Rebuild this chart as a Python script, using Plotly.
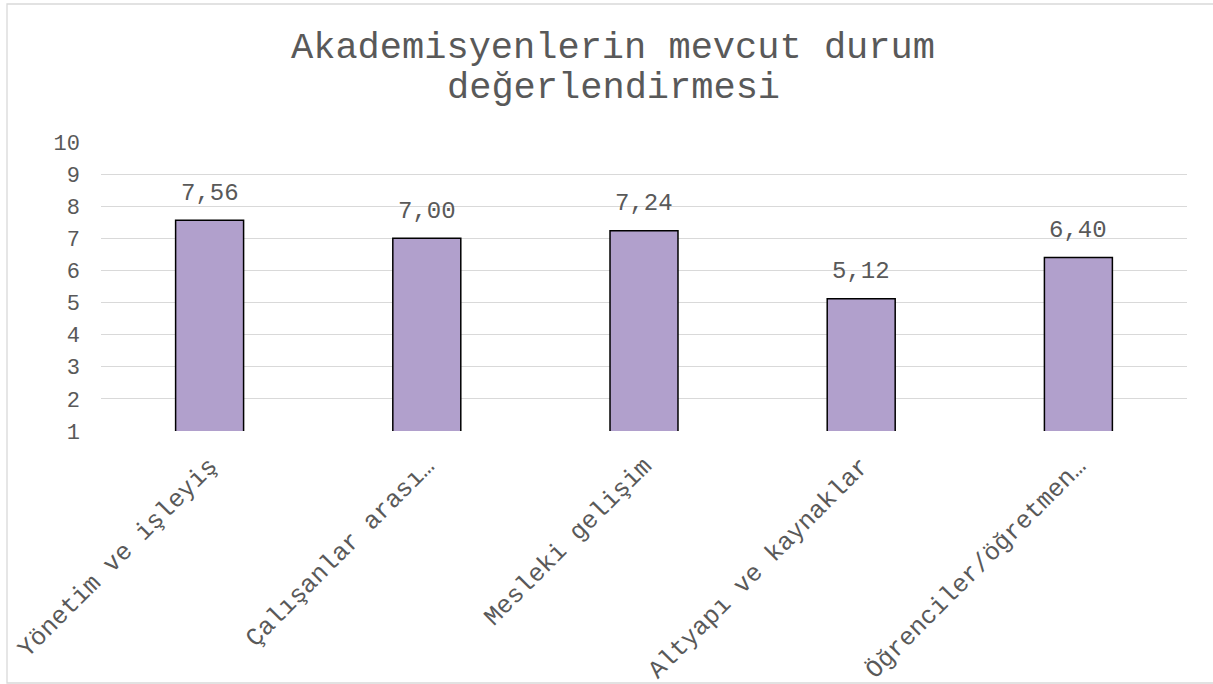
import plotly.graph_objects as go

categories = ["Yönetim ve işleyiş", "Çalışanlar arası…", "Mesleki gelişim",
              "Altyapı ve kaynaklar", "Öğrenciler/öğretmen…"]
values = [7.56, 7.00, 7.24, 5.12, 6.40]
title_lines = ["Akademisyenlerin mevcut durum", "değerlendirmesi"]
y_ticks = list(range(1, 11))

FONT = "Courier New, Liberation Mono, monospace"
GRAY = "#595959"

W, H = 1213, 684
L, R, T, B = 101, 26, 142, 253
pw, ph = W - L - R, H - T - B

def px_x(x):
    return (x - L) / pw

def px_y(y):
    return (H - B - y) / ph

labels = [f"{v:.2f}".replace(".", ",") for v in values]

fig = go.Figure(go.Bar(
    x=categories, y=values,
    marker=dict(color="#B1A0CC", line=dict(color="black", width=1.5)),
))

annotations = [
    dict(x=c, y=v, xref="x", yref="y", text=t, showarrow=False,
         xanchor="center", yanchor="middle", yshift=27,
         font=dict(family=FONT, size=24, color=GRAY))
    for c, v, t in zip(categories, values, labels)
]
annotations += [
    dict(text=title_lines[0], xref="paper", yref="paper", x=px_x(613), y=px_y(48),
         xanchor="center", yanchor="middle", showarrow=False,
         font=dict(family=FONT, size=37, color=GRAY)),
    dict(text=title_lines[1], xref="paper", yref="paper", x=px_x(613), y=px_y(88),
         xanchor="center", yanchor="middle", showarrow=False,
         font=dict(family=FONT, size=37, color=GRAY)),
]

fig.update_layout(
    width=W, height=H,
    margin=dict(l=L, r=R, t=T, b=B, autoexpand=False),
    paper_bgcolor="white", plot_bgcolor="white",
    bargap=0.687,
    showlegend=False,
    font=dict(family=FONT, color=GRAY),
    xaxis=dict(tickangle=-45, tickfont=dict(family=FONT, size=25, color=GRAY),
               showline=False, ticks="", showgrid=False, ticklabelstandoff=14),
    yaxis=dict(range=[1, 10], tickvals=y_ticks, showgrid=True, gridcolor="#D9D9D9",
               gridwidth=1.3, zeroline=False, showline=False, ticks="",
               ticklabelstandoff=20,
               tickfont=dict(family=FONT, size=22, color=GRAY)),
    shapes=[dict(type="rect", xref="paper", yref="paper",
                 x0=px_x(7), x1=px_x(1225), y0=px_y(683), y1=px_y(4),
                 line=dict(color="#D9D9D9", width=1.3), layer="below")],
    annotations=annotations,
)

fig.write_html("out.html")
